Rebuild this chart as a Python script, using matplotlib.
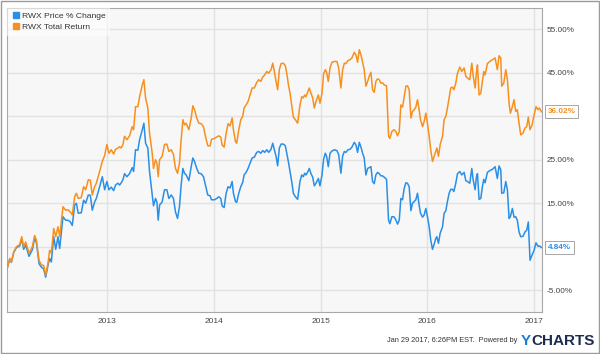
import matplotlib
matplotlib.use('Agg')
from matplotlib import pyplot as plt
from matplotlib.lines import Line2D
from matplotlib.patches import Rectangle
import matplotlib.transforms as mtransforms

# time axis in decimal years (percent)
years = [
    2012.066, 2012.091, 2012.106, 2012.128, 2012.153, 2012.184, 2012.203, 2012.221, 2012.240, 2012.271,
    2012.302, 2012.324, 2012.340, 2012.365, 2012.387, 2012.408, 2012.427, 2012.449, 2012.464, 2012.480,
    2012.502, 2012.521, 2012.542, 2012.558, 2012.589, 2012.614, 2012.636, 2012.658, 2012.676, 2012.698,
    2012.714, 2012.732, 2012.760, 2012.782, 2012.801, 2012.826, 2012.845, 2012.863, 2012.885,
    2012.901, 2012.932, 2012.957, 2012.979, 2013.000, 2013.019, 2013.041, 2013.063, 2013.081, 2013.103,
    2013.119, 2013.134, 2013.150, 2013.165, 2013.187, 2013.212, 2013.237, 2013.250, 2013.268, 2013.290,
    2013.306, 2013.331, 2013.346, 2013.362, 2013.383, 2013.399, 2013.424, 2013.436, 2013.455, 2013.468,
    2013.480, 2013.493, 2013.517, 2013.539, 2013.561, 2013.580, 2013.602, 2013.623, 2013.642, 2013.661,
    2013.679, 2013.695, 2013.711, 2013.726,
    2013.742, 2013.767, 2013.789, 2013.804, 2013.820, 2013.841, 2013.860, 2013.882, 2013.904, 2013.922,
    2013.944, 2013.966, 2013.979, 2014.007, 2014.028, 2014.047, 2014.066, 2014.078, 2014.097, 2014.116,
    2014.134, 2014.153, 2014.172, 2014.184, 2014.203, 2014.215, 2014.234, 2014.253, 2014.271, 2014.284,
    2014.303, 2014.321, 2014.340, 2014.359, 2014.380, 2014.402, 2014.421, 2014.440, 2014.458, 2014.477,
    2014.496, 2014.514, 2014.536, 2014.552, 2014.567,
    2014.583, 2014.598, 2014.614, 2014.630, 2014.651, 2014.670, 2014.683, 2014.701, 2014.714, 2014.732,
    2014.745, 2014.764, 2014.785, 2014.795, 2014.807, 2014.823, 2014.838, 2014.851, 2014.863, 2014.882,
    2014.894, 2014.910, 2014.926, 2014.941, 2014.957, 2014.979, 2014.994, 2015.013, 2015.028, 2015.044,
    2015.056, 2015.072, 2015.088, 2015.106, 2015.128, 2015.153, 2015.169, 2015.190, 2015.206, 2015.222,
    2015.237, 2015.256, 2015.275, 2015.293, 2015.315, 2015.331, 2015.346, 2015.362, 2015.380, 2015.393,
    2015.408,
    2015.424, 2015.440, 2015.455, 2015.471, 2015.486, 2015.502, 2015.517, 2015.533, 2015.549, 2015.564,
    2015.580, 2015.595, 2015.617, 2015.636, 2015.648, 2015.667, 2015.686, 2015.704, 2015.720, 2015.736,
    2015.751, 2015.767, 2015.782, 2015.798, 2015.813, 2015.829, 2015.845, 2015.860, 2015.876, 2015.891,
    2015.907, 2015.922, 2015.935, 2015.954, 2015.969, 2015.985, 2016.000, 2016.016, 2016.031, 2016.047,
    2016.063, 2016.078, 2016.088, 2016.103, 2016.119, 2016.141, 2016.156, 2016.172, 2016.187, 2016.203,
    2016.218, 2016.234, 2016.247,
    2016.265, 2016.281, 2016.303, 2016.321, 2016.343, 2016.359, 2016.374, 2016.396, 2016.415, 2016.427,
    2016.446, 2016.458, 2016.468, 2016.483, 2016.499, 2016.514, 2016.527, 2016.539, 2016.561, 2016.583,
    2016.608, 2016.633, 2016.654, 2016.670, 2016.686, 2016.695, 2016.714, 2016.733, 2016.748, 2016.764,
    2016.776, 2016.795, 2016.810, 2016.826, 2016.841, 2016.857, 2016.873, 2016.894, 2016.913, 2016.929,
    2016.944, 2016.960, 2016.979, 2016.998, 2017.016, 2017.035, 2017.048, 2017.066,
]

price_change = [
    0.0, 2.2, 1.4, 3.7, 4.8, 5.2, 6.8, 4.4, 5.4, 2.8,
    4.3, 7.0, 6.0, 1.1, 0.3, -0.1, -2.0, 0.8, 2.3, 1.5,
    7.3, 4.4, 7.3, 4.6, 11.9, 11.1, 11.1, 10.7, 9.9, 14.6,
    15.0, 12.7, 12.8, 15.7, 15.0, 16.9, 16.8, 13.4, 15.3,
    16.1, 18.8, 21.1, 18.1, 20.0, 18.1, 18.7, 17.9, 19.2, 19.6,
    19.2, 19.7, 20.4, 21.8, 21.1, 21.8, 23.2, 22.3, 27.3, 27.2,
    29.6, 31.9, 33.4, 28.8, 27.7, 22.3, 16.9, 14.4, 16.1, 15.3,
    11.1, 14.6, 15.3, 18.1, 18.1, 16.1, 16.9, 16.1, 13.0, 11.5,
    14.2, 19.2, 23.0, 21.9,
    21.5, 20.2, 23.4, 25.4, 24.6, 23.0, 21.9, 21.8, 21.1, 19.2,
    16.9, 16.7, 15.8, 15.8, 16.1, 16.5, 16.1, 14.4, 14.0, 17.3,
    18.8, 18.5, 20.0, 17.3, 15.4, 15.2, 17.3, 18.8, 19.8, 21.5,
    22.1, 23.0, 24.2, 25.4, 25.6, 26.7, 26.9, 26.5, 27.1, 26.7,
    27.3, 26.7, 27.4, 28.8, 27.3,
    25.8, 23.6, 27.7, 28.6, 28.6, 28.2, 26.5, 24.2, 22.3, 19.6,
    17.3, 16.5, 15.9, 17.7, 20.0, 21.5, 21.1, 21.9, 21.5, 22.3,
    23.0, 21.8, 21.0, 19.0, 19.6, 20.7, 19.0, 21.5, 25.1, 26.5,
    25.8, 23.4, 26.5, 27.0, 27.3, 27.1, 26.2, 21.9, 25.8, 26.9,
    26.7, 27.3, 27.4, 27.9, 29.0, 28.4, 26.7, 29.0, 27.7, 26.5,
    25.4,
    21.5, 23.0, 23.2, 23.4, 20.0, 19.5, 21.5, 22.1, 21.8, 21.3,
    21.3, 21.0, 20.5, 11.1, 10.3, 11.9, 11.9, 11.2, 10.2, 11.1,
    16.1, 15.8, 18.4, 19.7, 19.6, 18.8, 13.3, 15.0, 15.4, 15.8,
    17.3, 14.6, 12.7, 11.8, 12.3, 13.8, 11.9, 9.6, 6.5, 4.4,
    5.6, 6.9, 7.3, 5.8, 8.1, 9.6, 12.7, 13.3, 15.4, 17.3,
    18.2, 18.2, 17.7,
    19.6, 21.8, 22.3, 21.5, 22.1, 20.2, 20.0, 19.6, 23.0, 20.5,
    18.1, 21.0, 21.8, 15.9, 16.1, 18.8, 20.5, 19.7, 22.1, 22.5,
    22.8, 23.4, 20.7, 23.6, 22.7, 17.3, 17.4, 20.0, 18.1, 11.5,
    11.9, 13.8, 11.8, 11.9, 11.1, 8.4, 7.3, 7.4, 8.4, 8.8,
    10.7, 1.9, 3.1, 4.2, 5.9, 5.1, 5.2, 4.84,
]

total_return = [
    0.0, 2.3, 1.5, 3.8, 5.0, 5.5, 7.3, 5.0, 6.1, 3.5,
    5.0, 7.6, 6.5, 1.9, 0.8, 0.7, -1.5, 1.3, 4.2, 3.5,
    9.2, 7.3, 9.6, 7.3, 14.2, 13.4, 13.5, 13.0, 12.3, 16.5,
    17.3, 16.1, 16.3, 18.8, 18.1, 20.4, 20.3, 16.9, 18.8,
    19.6, 22.3, 24.6, 26.0, 28.5, 26.5, 27.3, 26.3, 27.4, 27.7,
    28.0, 27.7, 28.5, 30.4, 29.6, 30.5, 32.6, 31.9, 37.2, 37.2,
    39.5, 42.2, 43.4, 39.2, 36.9, 31.1, 26.5, 23.0, 25.0, 24.2,
    21.1, 25.0, 25.8, 28.5, 28.6, 26.9, 27.3, 26.2, 23.0, 21.9,
    24.2, 29.6, 34.2, 33.0,
    33.4, 31.9, 34.6, 37.4, 36.5, 34.6, 33.4, 33.3, 32.6, 30.4,
    28.2, 28.2, 29.7, 29.9, 30.2, 30.5, 30.2, 28.4, 27.9, 31.1,
    33.3, 32.8, 34.6, 31.9, 29.2, 28.8, 31.9, 34.2, 35.0, 36.9,
    37.6, 38.4, 39.9, 41.5, 41.5, 42.8, 43.4, 43.0, 44.0, 44.5,
    45.3, 44.9, 45.7, 47.2, 45.3,
    43.0, 41.1, 45.7, 47.1, 47.2, 46.6, 44.9, 41.9, 40.3, 37.2,
    34.8, 34.2, 33.4, 35.3, 37.6, 39.5, 39.2, 39.9, 39.5, 40.7,
    41.5, 40.3, 39.2, 36.9, 38.4, 39.9, 38.0, 40.3, 44.8, 45.7,
    45.1, 43.0, 46.1, 47.4, 47.6, 47.6, 46.1, 41.5, 45.7, 47.2,
    47.1, 47.8, 48.0, 48.4, 49.7, 49.1, 47.4, 50.3, 48.9, 47.4,
    45.7,
    41.9, 43.0, 44.2, 45.1, 41.1, 40.5, 43.0, 43.6, 43.4, 42.6,
    42.7, 42.2, 42.0, 30.4, 29.9, 31.5, 31.9, 31.5, 30.5, 31.5,
    37.6, 37.1, 39.5, 41.9, 42.0, 41.1, 34.6, 36.1, 36.5, 37.1,
    38.8, 36.5, 34.2, 32.6, 33.8, 35.7, 33.4, 30.4, 27.3, 24.6,
    25.8, 26.9, 27.7, 25.8, 28.5, 30.4, 34.2, 35.0, 36.9, 39.2,
    41.5, 41.7, 41.1,
    42.6, 44.9, 46.3, 45.3, 46.1, 44.2, 43.8, 43.4, 47.2, 44.5,
    41.5, 44.9, 46.8, 39.9, 40.3, 43.0, 45.3, 44.5, 47.1, 47.6,
    48.0, 48.4, 45.7, 48.9, 48.4, 41.9, 42.6, 45.7, 43.4, 38.0,
    35.7, 37.2, 38.8, 36.1, 36.5, 33.4, 30.7, 31.1, 32.3, 32.6,
    34.8, 31.9, 33.0, 35.3, 37.2, 36.5, 36.9, 36.02,
]

series_names = ['RWX Price % Change', 'RWX Total Return']
y_ticks = [-5, 5, 15, 25, 35, 45, 55]
x_ticks = [2013, 2014, 2015, 2016, 2017]
footer = 'Jan 29 2017, 6:26PM EST.  Powered by'

blue = '#2a8fe6'
orange = '#f7901e'
grey_txt = '#444444'
font = 'Liberation Sans'

fig = plt.figure(figsize=(6, 3.54), dpi=100)
ax = fig.add_axes([7 / 600, 42 / 354, 535 / 600, 304.5 / 354])
ax.set_facecolor('#f7f7f7')

ax.plot(years, price_change, color=blue, lw=1.1, zorder=3)
ax.plot(years, total_return, color=orange, lw=1.1, zorder=3)

ax.set_xlim(2012.065, 2017.072)
ax.set_ylim(-10, 60)

ax.yaxis.tick_right()
ax.set_yticks(y_ticks)
ax.set_yticklabels([f'{v:.2f}%' for v in y_ticks], fontsize=5.9, color=grey_txt, family=font)
ax.set_xticks(x_ticks)
ax.set_xticklabels([str(v) for v in x_ticks], fontsize=6, color=grey_txt, family=font)
ax.tick_params(axis='both', length=0)
ax.tick_params(axis='y', pad=3.5)
ax.tick_params(axis='x', pad=4)
ax.grid(True, color='#e2e2e2', lw=1.0, zorder=0)
ax.set_axisbelow(True)
for side in ax.spines.values():
    side.set_color('#a8a8a8')
    side.set_linewidth(0.8)

# legend with square markers
handles = [Line2D([], [], marker='s', ls='none', color=c, markersize=4) for c in (blue, orange)]
leg = ax.legend(handles, series_names, loc='upper left', frameon=True,
                prop={'family': font, 'size': 6.1}, handletextpad=0.1, labelspacing=0.45,
                borderpad=0.5, borderaxespad=0.0, handlelength=1.2)
leg.get_frame().set_facecolor('white')
leg.get_frame().set_alpha(0.55)
leg.get_frame().set_edgecolor('none')
leg.get_frame().set_boxstyle('square', pad=0)
for t in leg.get_texts():
    t.set_color('#333333')

# last value labels on the right axis
trans = mtransforms.blended_transform_factory(ax.transAxes, ax.transData)
for vals, col in ((total_return, orange), (price_change, blue)):
    ax.annotate(f'{vals[-1]:.2f}%', xy=(1, vals[-1]), xycoords=trans,
                xytext=(4, 0), textcoords='offset points', va='center', ha='left',
                fontsize=5.9, fontweight='bold', color=col, family=font,
                bbox=dict(boxstyle='square,pad=0.35', fc='white', ec='#999999', lw=0.6),
                zorder=5, annotation_clip=False)

# footer
fig.text(517 / 600, 1 - 341 / 354, footer, ha='right', va='center', fontsize=5.3,
         color='#333333', family=font)
ylogo = fig.text(521 / 600, 1 - 341 / 354, 'Y', ha='left', va='center', fontsize=11,
                 fontweight='bold', color='#1a7fd8', family=font)
ax.annotate('CHARTS', xy=(1, 0), xycoords=ylogo, xytext=(0.5, 0), textcoords='offset points',
            ha='left', va='bottom', fontsize=11, fontweight='bold', color='#1d2b4f', family=font,
            annotation_clip=False)

# outer frame
fig.patches.append(Rectangle((0.001, 0.002), 0.997, 0.996, transform=fig.transFigure,
                             fill=False, ec='#9a9a9a', lw=1.0))

fig.savefig('out.png', dpi=100)
